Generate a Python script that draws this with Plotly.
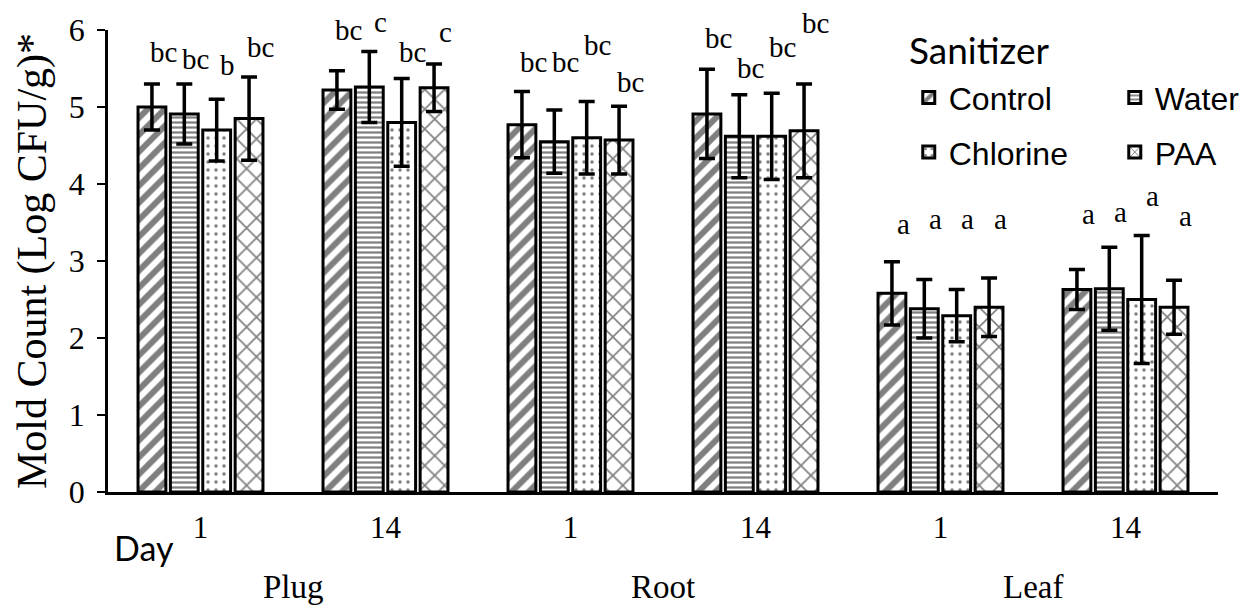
import plotly.graph_objects as go

# ---------------- data ----------------
tissues = ["Plug", "Root", "Leaf"]
days = ["1", "14", "1", "14", "1", "14"]
sanitizers = ["Control", "Water", "Chlorine", "PAA"]

control = [5.00, 5.22, 4.77, 4.91, 2.58, 2.63]
control_sd = [0.30, 0.25, 0.43, 0.58, 0.41, 0.26]
water = [4.91, 5.26, 4.55, 4.62, 2.38, 2.64]
water_sd = [0.39, 0.46, 0.41, 0.54, 0.38, 0.54]
chlorine = [4.70, 4.80, 4.60, 4.62, 2.29, 2.50]
chlorine_sd = [0.40, 0.57, 0.47, 0.56, 0.34, 0.83]
paa = [4.85, 5.25, 4.57, 4.69, 2.40, 2.40]
paa_sd = [0.54, 0.31, 0.44, 0.61, 0.38, 0.35]

letters_control = ["bc", "bc", "bc", "bc", "a", "a"]
letters_water = ["bc", "c", "bc", "bc", "a", "a"]
letters_chlorine = ["b", "bc", "bc", "bc", "a", "a"]
letters_paa = ["bc", "c", "bc", "bc", "a", "a"]

# heights at which the significance letters are printed
letter_y_control = [5.72, 6.00, 5.58, 5.90, 3.48, 3.61]
letter_y_water = [5.62, 6.11, 5.58, 5.51, 3.55, 3.64]
letter_y_chlorine = [5.55, 5.72, 5.81, 5.78, 3.55, 3.84]
letter_y_paa = [5.78, 5.98, 5.33, 6.09, 3.55, 3.59]

y_ticks = [0, 1, 2, 3, 4, 5, 6]
Y_MAX = 6

# ---------------- styling ----------------
SERIF = "Liberation Serif"
ARIAL = "Liberation Sans"
CALIBRI = "Lato"

means = [control, water, chlorine, paa]
sds = [control_sd, water_sd, chlorine_sd, paa_sd]
letters = [letters_control, letters_water, letters_chlorine, letters_paa]
letter_ys = [letter_y_control, letter_y_water, letter_y_chlorine, letter_y_paa]
patterns = [
    dict(shape="/", size=12, solidity=0.5),
    dict(shape="-", size=5, solidity=0.45),
    dict(shape=".", size=8, solidity=0.15),
    dict(shape="x", size=14, solidity=0.22),
]
legend_ids = ["legend", "legend2", "legend", "legend2"]

BARGAP = 0.30
GROUPGAP = 0.14
xs = list(range(len(days)))
slot = (1 - BARGAP) / len(sanitizers)

fig = go.Figure()
for k, name in enumerate(sanitizers):
    fig.add_trace(go.Bar(
        x=xs, y=means[k], name=name,
        marker=dict(color="white", line=dict(color="black", width=3),
                    pattern=dict(fgcolor="black", bgcolor="white", **patterns[k])),
        error_y=dict(type="data", array=sds[k], visible=True,
                     color="black", thickness=3.5, width=8),
        legend=legend_ids[k], legendgroup=name,
    ))

# significance letters
for k, name in enumerate(sanitizers):
    offs = (k - (len(sanitizers) - 1) / 2) * slot
    for x, ly, txt in zip(xs, letter_ys[k], letters[k]):
        fig.add_annotation(x=x + offs + 0.06, y=ly / Y_MAX, xref="x", yref="paper",
                           text=txt, showarrow=False, yanchor="middle",
                           font=dict(family=SERIF, size=29, color="black"))

# tissue group labels
for i, t in enumerate(tissues):
    fig.add_annotation(x=2 * i + 0.5, y=-0.205, xref="x", yref="paper",
                       text=t, showarrow=False, yanchor="middle",
                       font=dict(family=SERIF, size=33, color="black"))

fig.add_annotation(x=0.004, y=-0.121, xref="paper", yref="paper", text="Day",
                   showarrow=False, xanchor="left", yanchor="middle",
                   font=dict(family=CALIBRI, size=34, color="black"))
fig.add_annotation(x=0.7195, y=0.957, xref="paper", yref="paper", text="Sanitizer",
                   showarrow=False, xanchor="left", yanchor="middle",
                   font=dict(family=CALIBRI, size=37, color="black"))

legend_common = dict(font=dict(family=ARIAL, size=32, color="black"),
                     bgcolor="rgba(0,0,0,0)", orientation="v",
                     yanchor="middle", xanchor="left", tracegroupgap=10,
                     itemclick=False, itemdoubleclick=False)

fig.update_layout(
    width=1257, height=607,
    margin=dict(l=108, r=29, t=28, b=115),
    paper_bgcolor="white", plot_bgcolor="white",
    barmode="group", bargap=BARGAP, bargroupgap=GROUPGAP,
    legend=dict(x=0.7214, y=0.794, **legend_common),
    legend2=dict(x=0.907, y=0.794, **legend_common),
    xaxis=dict(range=[-0.5, len(days) - 0.5], tickvals=xs, ticktext=days,
               showgrid=False, zeroline=False, showline=True,
               linecolor="black", linewidth=2.5, ticks="", ticklabelstandoff=6,
               tickfont=dict(family=SERIF, size=31, color="black")),
    yaxis=dict(range=[0, Y_MAX], tickvals=y_ticks, showgrid=False, zeroline=False,
               showline=True, linecolor="black", linewidth=2.5,
               ticks="outside", ticklen=8, tickwidth=2, tickcolor="black",
               ticklabelstandoff=6,
               tickfont=dict(family=SERIF, size=32, color="black"),
               title=dict(text="Mold Count (Log CFU/g)*", standoff=10,
                          font=dict(family=SERIF, size=42, color="black"))),
)

fig.write_html("out.html")
